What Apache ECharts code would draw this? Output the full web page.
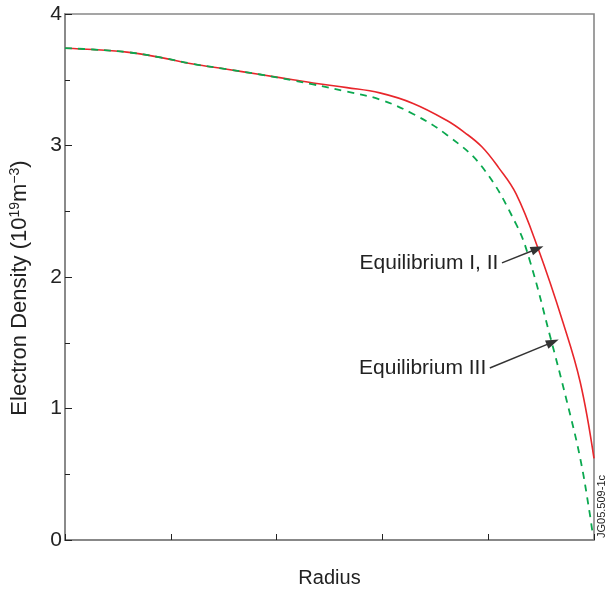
<!DOCTYPE html>
<html><head><meta charset="utf-8">
<script src="https://cdn.jsdelivr.net/npm/echarts@6/dist/echarts.min.js"></script>
<style>html,body{margin:0;padding:0;background:#fff}#c{width:607px;height:599px}</style>
</head><body><div id="c"></div>
<script>
const radiusA = [0, 0.053, 0.117, 0.18, 0.242, 0.306, 0.369, 0.431, 0.469, 0.533, 0.595, 0.658, 0.722, 0.755, 0.788, 0.82, 0.853, 0.894, 0.941, 0.974, 1.0];
const densityA = [3.74, 3.73, 3.71, 3.67, 3.62, 3.58, 3.54, 3.50, 3.475, 3.44, 3.40, 3.32, 3.19, 3.10, 2.99, 2.83, 2.63, 2.22, 1.66, 1.20, 0.62];
const radiusB = [0, 0.053, 0.117, 0.18, 0.242, 0.306, 0.369, 0.431, 0.469, 0.533, 0.595, 0.658, 0.722, 0.788, 0.853, 0.879, 0.917, 0.949, 0.974, 0.992, 0.998];
const densityB = [3.74, 3.73, 3.71, 3.67, 3.62, 3.58, 3.54, 3.495, 3.465, 3.41, 3.35, 3.24, 3.08, 2.84, 2.40, 2.12, 1.55, 1.05, 0.62, 0.20, 0.03];
const labelA = 'Equilibrium I, II';
const labelB = 'Equilibrium III';
const annA = {from: [0.826, 2.107], to: [0.893, 2.215]};
const annB = {from: [0.803, 1.308], to: [0.922, 1.505]};

const font = 'Liberation Sans, Arial, sans-serif';
const chart = echarts.init(document.getElementById('c'));
const arrowLine = (a) => ({
  silent: true,
  symbol: ['none', 'triangle'],
  symbolSize: [9, 13],
  lineStyle: {color: '#333', width: 1.4, type: 'solid'},
  itemStyle: {color: '#333'},
  label: {show: false},
  data: [[{coord: a.from}, {coord: a.to}]]
});
const txtPoint = (a, text) => ({
  silent: true,
  symbol: 'circle', symbolSize: 1,
  itemStyle: {color: 'rgba(0,0,0,0)'},
  label: {show: true, position: 'left', distance: 3, formatter: text,
    fontFamily: font, fontSize: 21, color: '#222'},
  data: [{coord: a.from}]
});
chart.setOption({
  animation: false,
  grid: {left: 65, right: 13, top: 14, bottom: 59, containLabel: false, outerBoundsMode: 'none',
    show: true, borderColor: '#888', borderWidth: 1.6},
  xAxis: {
    type: 'value', min: 0, max: 1, interval: 0.2,
    name: 'Radius', nameLocation: 'middle', nameGap: 28,
    nameTextStyle: {fontFamily: font, fontSize: 20, color: '#222'},
    axisLine: {lineStyle: {color: '#888', width: 1.8}},
    axisTick: {inside: true, length: 6, lineStyle: {color: '#222'}},
    axisLabel: {show: false},
    splitLine: {show: false}
  },
  yAxis: {
    type: 'value', min: 0, max: 4, interval: 1,
    name: '{a|Electron Density (10}{s|19}{a|m}{s|−3}{a|)}', nameLocation: 'middle', nameGap: 33,
    nameTextStyle: {padding: [0, 22, 0, 0], rich: {
      a: {fontFamily: font, fontSize: 22, color: '#222'},
      s: {fontFamily: font, fontSize: 14, color: '#222', verticalAlign: 'top', padding: [0, 0, 10, 0]}
    }},
    axisLine: {show: true, lineStyle: {color: '#888', width: 1.8}},
    axisTick: {inside: true, length: 7, lineStyle: {color: '#222'}},
    minorTick: {show: true, splitNumber: 2, length: 5, lineStyle: {color: '#222'}},
    axisLabel: {fontFamily: font, fontSize: 21, color: '#222', margin: 3},
    splitLine: {show: false}
  },
  graphic: [{
    type: 'text', right: 0, top: 475, rotation: Math.PI / 2,
    style: {text: 'JG05.509-1c', font: '11px Liberation Sans, Arial', fill: '#222'}
  }],
  series: [
    {type: 'line', data: radiusA.map((x, i) => [x, densityA[i]]), smooth: 0.4, showSymbol: false,
     lineStyle: {color: '#e8262b', width: 1.6}, z: 3,
     markLine: arrowLine(annA), markPoint: txtPoint(annA, labelA)},
    {type: 'line', data: radiusB.map((x, i) => [x, densityB[i]]), smooth: 0.4, showSymbol: false,
     lineStyle: {color: '#0aa84f', width: 1.8, type: [7, 6]}, z: 4,
     markLine: arrowLine(annB), markPoint: txtPoint(annB, labelB)}
  ]
});
</script></body></html>
